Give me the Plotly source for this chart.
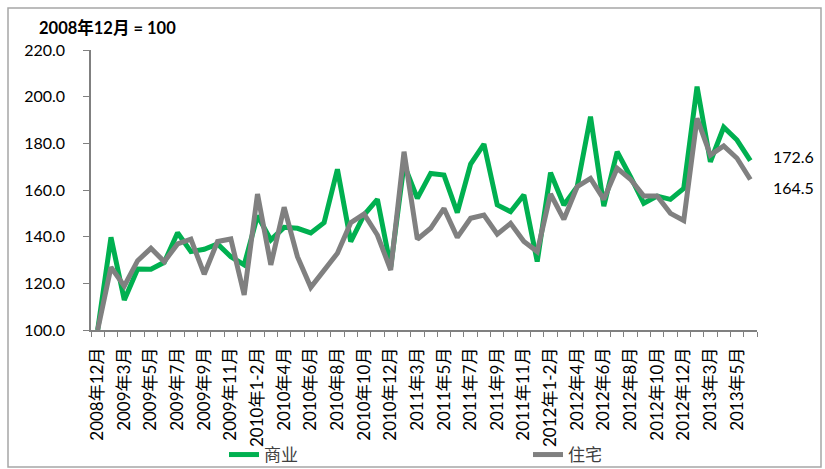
import plotly.graph_objects as go

categories = [
    "2008年12月",
    "2009年1-2月", "2009年3月", "2009年4月", "2009年5月", "2009年6月", "2009年7月",
    "2009年8月", "2009年9月", "2009年10月", "2009年11月", "2009年12月",
    "2010年1-2月", "2010年3月", "2010年4月", "2010年5月", "2010年6月", "2010年7月",
    "2010年8月", "2010年9月", "2010年10月", "2010年11月", "2010年12月",
    "2011年1-2月", "2011年3月", "2011年4月", "2011年5月", "2011年6月", "2011年7月",
    "2011年8月", "2011年9月", "2011年10月", "2011年11月", "2011年12月",
    "2012年1-2月", "2012年3月", "2012年4月", "2012年5月", "2012年6月", "2012年7月",
    "2012年8月", "2012年9月", "2012年10月", "2012年11月", "2012年12月",
    "2013年1-2月", "2013年3月", "2013年4月", "2013年5月", "2013年6月",
]

commercial = [100, 139.7, 112.9, 126.1, 126.0, 129.0, 141.7, 133.6, 134.6, 136.9,
              131.4, 127.9, 149.0, 138.6, 144.0, 143.6, 141.6, 146.0, 168.9, 137.9,
              149.3, 156.0, 127.0, 171.0, 156.4, 167.1, 166.4, 150.3, 171.1, 179.7,
              153.6, 150.7, 157.9, 129.3, 167.4, 153.6, 161.4, 191.4, 153.1, 176.4,
              165.7, 154.3, 157.4, 156.0, 160.7, 204.3, 172.1, 186.9, 181.4, 172.6]

residential = [100, 126.9, 118.9, 129.7, 135.0, 129.3, 136.9, 138.9, 123.9, 137.9,
               139.0, 115.0, 158.3, 127.9, 152.6, 131.4, 118.3, 125.7, 132.9, 146.0,
               149.7, 140.7, 125.7, 176.4, 138.9, 143.6, 152.1, 139.7, 147.9, 149.3,
               141.1, 145.7, 137.9, 133.6, 158.3, 147.4, 161.4, 165.0, 156.0, 169.3,
               164.6, 157.4, 157.4, 150.0, 146.9, 190.7, 175.0, 178.9, 173.6, 164.5]

series_names = ["商业", "住宅"]
y_ticks = [100, 120, 140, 160, 180, 200, 220]
tick_text = [c if i % 2 == 0 else "" for i, c in enumerate(categories)]

FONT = "Lato, 'Noto Sans CJK SC', sans-serif"
GREEN = "#00B050"
GREY = "#808080"

fig = go.Figure()
fig.add_trace(go.Scatter(x=categories, y=commercial, mode="lines", name=series_names[0],
                         line=dict(color=GREEN, width=5), legend="legend"))
fig.add_trace(go.Scatter(x=categories, y=residential, mode="lines", name=series_names[1],
                         line=dict(color=GREY, width=5), legend="legend2"))

fig.add_annotation(x=categories[-1], y=commercial[-1], text=f"{commercial[-1]:.1f}",
                   showarrow=False, xanchor="left", xshift=21, yshift=4,
                   font=dict(family=FONT, size=16, color="#000000"))
fig.add_annotation(x=categories[-1], y=residential[-1], text=f"{residential[-1]:.1f}",
                   showarrow=False, xanchor="left", xshift=21, yshift=-8,
                   font=dict(family=FONT, size=16, color="#000000"))

fig.add_annotation(xref="paper", yref="paper", x=(37 - 91) / 666, y=(330 - 28) / 280,
                   xanchor="left", yanchor="middle", showarrow=False,
                   text="<b>2008年12月 = 100</b>",
                   font=dict(family=FONT, size=16.5, color="#000000"))

# outer border
fig.add_shape(type="rect", xref="paper", yref="paper",
              x0=(8 - 91) / 666, x1=(821 - 91) / 666,
              y0=(330 - 467) / 280, y1=(330 - 8) / 280,
              line=dict(color="#A6A6A6", width=1.5))

legend_common = dict(orientation="h", yanchor="middle", y=(330 - 455) / 280,
                     xanchor="left", font=dict(family=FONT, size=17, color="#404040"),
                     bgcolor="rgba(0,0,0,0)")

fig.update_layout(
    width=825, height=469,
    margin=dict(l=91, r=68, t=50, b=139, autoexpand=False),
    paper_bgcolor="white", plot_bgcolor="white",
    font=dict(family=FONT, size=15, color="#000000"),
    showlegend=True,
    legend=dict(x=(224 - 91) / 666, **legend_common),
    legend2=dict(x=(528 - 91) / 666, **legend_common),
    xaxis=dict(type="category", range=[-0.5, len(categories) - 0.5],
               tickmode="array", tickvals=categories, ticktext=tick_text,
               tickangle=-90, tickson="boundaries", ticks="outside", ticklen=5,
               tickcolor=GREY, showline=True, linecolor=GREY, linewidth=1.5,
               showgrid=False, automargin=False, ticklabelstandoff=9,
               tickfont=dict(family=FONT, size=17, color="#000000")),
    yaxis=dict(range=[100, 220], tickmode="array", tickvals=y_ticks, tickformat=".1f",
               ticks="outside", ticklen=6, tickcolor=GREY, showline=True,
               linecolor=GREY, linewidth=1.5, showgrid=False, zeroline=False,
               ticklabelstandoff=15, automargin=False,
               tickfont=dict(family=FONT, size=16, color="#000000")),
)

fig.write_html("out.html", config={"displayModeBar": False},
               post_script="document.body.style.margin='0';document.body.style.overflow='hidden';")
